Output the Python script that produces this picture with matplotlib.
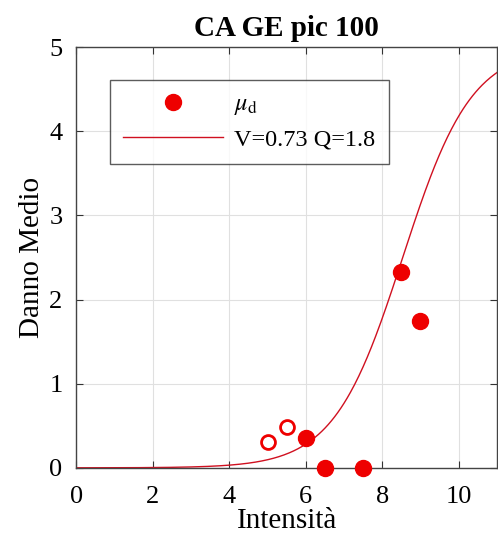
import matplotlib.pyplot as plt
import numpy as np

plt.rcParams['font.family'] = ['Liberation Serif', 'DejaVu Serif']
plt.rcParams['mathtext.fontset'] = 'stix'

# dati osservati (danno medio per intensita')
intens_pieni = [6.0, 6.5, 7.5, 8.5, 9.0]
danno_pieni = [0.36, 0.0, 0.0, 2.33, 1.74]
intens_vuoti = [5.0, 5.5]
danno_vuoti = [0.31, 0.49]

# parametri della curva di vulnerabilita'
V = 0.73
Q = 1.8

I = np.linspace(0, 11, 400)
mu_d = 2.5 * (1 + np.tanh((I + 6.25 * V - 13.1) / Q))

fig = plt.figure(figsize=(4.98, 5.44), dpi=100)
ax = fig.add_axes([0.1536, 0.14, 0.844, 0.7735])

rosso = '#ee0000'
ax.plot(intens_pieni, danno_pieni, 'o', color=rosso, markersize=11.5,
        label=r'$\mu_{\rm d}$', zorder=3, clip_on=False)
ax.plot(intens_vuoti, danno_vuoti, 'o', markerfacecolor='white',
        markeredgecolor=rosso, markeredgewidth=2, markersize=10, zorder=3)
ax.plot(I, mu_d, color='#d01020', linewidth=1,
        label='V=%.2f Q=%.1f' % (V, Q), zorder=2)

ax.set_xlim(0, 11)
ax.set_ylim(0, 5)
ax.set_xticks([0, 2, 4, 6, 8, 10])
ax.set_yticks([0, 1, 2, 3, 4, 5])
ax.grid(True, color='#e0e0e0', linewidth=0.8)
ax.set_axisbelow(True)
ax.tick_params(direction='in', top=True, right=True, labelsize=19,
               length=5, color='#333333')
ax.tick_params(axis='x', pad=13)
ax.tick_params(axis='y', pad=10)
for s in ax.spines.values():
    s.set_color('#444444')
    s.set_linewidth(1)

ax.set_xlabel('Intensità', fontsize=21, labelpad=0)
ax.set_ylabel('Danno Medio', fontsize=21, labelpad=3)
ax.set_title('CA GE pic 100', fontsize=21, fontweight='bold', pad=8)

leg = ax.legend(loc='upper left', bbox_to_anchor=(0.08, 0.922), fontsize=17.5,
                frameon=True, fancybox=False, edgecolor='#333333',
                borderpad=0.55, handlelength=4.1, handletextpad=0.45,
                labelspacing=0.45, borderaxespad=0)
leg.get_frame().set_linewidth(1)

fig.savefig('out.png', dpi=100)
